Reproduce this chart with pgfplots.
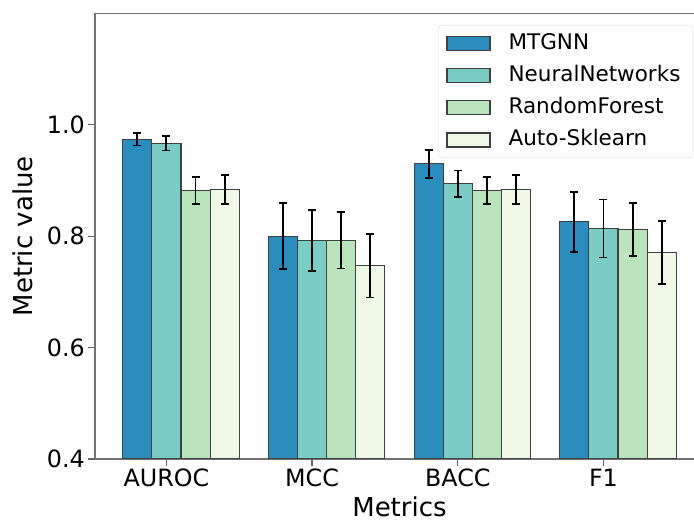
\documentclass[border=0pt]{standalone}
\usepackage{fontspec}
\setmainfont{DejaVu Sans}
\usepackage{pgfplots}
\usepackage{pgfplotstable}
\pgfplotsset{compat=1.18}

\definecolor{gnbuA}{HTML}{2B8CBE}
\definecolor{gnbuB}{HTML}{7BCCC4}
\definecolor{gnbuC}{HTML}{BAE4BC}
\definecolor{gnbuD}{HTML}{F0F9E8}

% x: 0 AUROC, 1 MCC, 2 BACC, 3 F1
\pgfplotstableread{
x y err
0 0.974 0.011
1 0.800 0.059
2 0.930 0.025
3 0.826 0.054
}\mtgnn
\pgfplotstableread{
x y err
0 0.967 0.013
1 0.792 0.055
2 0.894 0.024
3 0.814 0.052
}\neural
\pgfplotstableread{
x y err
0 0.882 0.024
1 0.793 0.051
2 0.882 0.024
3 0.812 0.048
}\forest
\pgfplotstableread{
x y err
0 0.884 0.026
1 0.747 0.057
2 0.884 0.026
3 0.771 0.057
}\autosk

\begin{document}
\begin{tikzpicture}
\begin{axis}[
    scale only axis,
    width=609pt, height=445.5pt,
    xmin=-0.49, xmax=3.69,
    ymin=0.4, ymax=1.2,
    ybar, bar width=0.2,
    xtick={0,1,2,3},
    xticklabels={AUROC,MCC,BACC,F1},
    ytick={0.4,0.6,0.8,1.0},
    yticklabel style={/pgf/number format/.cd, fixed, fixed zerofill, precision=1},
    /pgf/number format/assume math mode=true,
    tick align=outside,
    xtick pos=left, ytick pos=left,
    major tick length=6.7pt,
    tick style={line width=1.2pt, black!60},
    axis line style={line width=1.2pt, black!55},
    ticklabel style={font=\fontsize{23.8}{28}\selectfont},
    label style={font=\fontsize{26}{31}\selectfont},
    xlabel={Metrics},
    ylabel={Metric value},
    xlabel style={yshift=-2.5pt},
    ylabel style={yshift=7pt},
    every axis plot/.append style={draw=black!75, line width=1.1pt},
    error bars/error bar style={line width=1.8pt, black},
    error bars/error mark options={rotate=90, line width=1.8pt, black, mark size=4pt},
    legend cell align=left,
    legend image code/.code={\draw[#1, sharp corners, line width=1.1pt] (0pt,-7pt) rectangle (43pt,7pt);},
    legend style={
        at={(0.9814,0.9742)}, anchor=north east,
        font=\fontsize{21.5}{26}\selectfont,
        draw=black!15, rounded corners=3pt,
        fill=white,
        inner xsep=8pt, inner ysep=8.4pt,
        row sep=13.3pt, column sep=14pt,
        nodes={inner xsep=4pt, inner ysep=0pt, text height=15.5pt, text depth=3.5pt},
    },
]
\addplot[fill=gnbuA, bar shift=-0.2, error bars/.cd, y dir=both, y explicit]
    table[x=x, y=y, y error=err] {\mtgnn};
\addplot[fill=gnbuB, bar shift=0, error bars/.cd, y dir=both, y explicit]
    table[x=x, y=y, y error=err] {\neural};
\addplot[fill=gnbuC, bar shift=0.2, error bars/.cd, y dir=both, y explicit]
    table[x=x, y=y, y error=err] {\forest};
\addplot[fill=gnbuD, bar shift=0.4, error bars/.cd, y dir=both, y explicit]
    table[x=x, y=y, y error=err] {\autosk};
\legend{MTGNN, NeuralNetworks, RandomForest, Auto-Sklearn}
\end{axis}
\pgfresetboundingbox
\path (-95pt,-63pt) rectangle (599pt,459pt);
\end{tikzpicture}
\end{document}
